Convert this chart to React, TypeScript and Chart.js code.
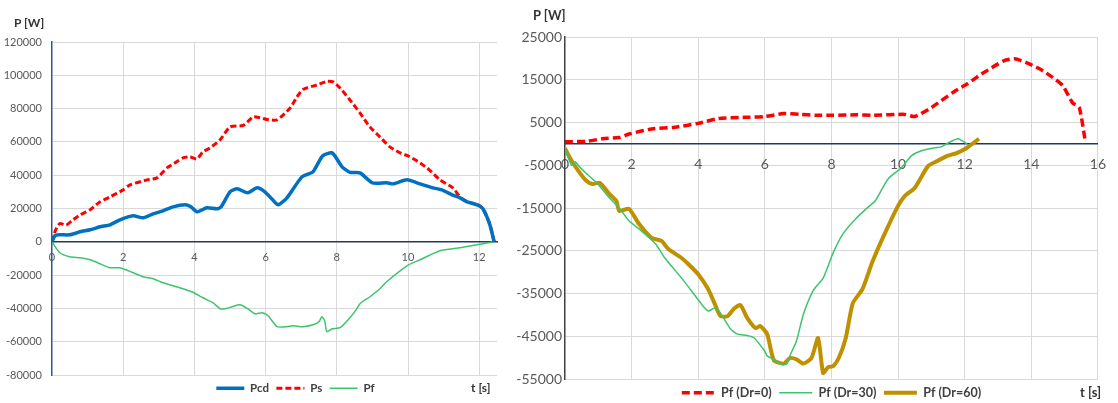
import React, { useEffect, useRef } from "react";
import { Chart, registerables } from "chart.js";

Chart.register(...registerables);

// ---------- Left chart data ----------
const pcdT = [0, 0.08, 0.2, 0.5, 0.79, 1.07, 1.35, 1.63, 1.91, 2.28, 2.56, 2.84, 3.12, 3.4, 3.74, 3.9, 4.07, 4.35, 4.63, 4.75, 5.0, 5.2, 5.5, 5.76, 5.98, 6.2, 6.35, 6.6, 7.02, 7.33, 7.6, 7.87, 8.15, 8.37, 8.65, 9.0, 9.4, 9.58, 9.97, 10.34, 10.7, 10.95, 11.24, 11.46, 11.66, 11.94, 12.1, 12.3, 12.42];
const pcdP = [0, 3600, 4200, 4200, 6000, 7200, 9000, 10200, 13200, 15600, 14400, 16800, 18600, 21000, 22200, 21000, 18000, 20400, 19800, 21000, 30000, 31800, 29400, 32400, 30000, 25200, 22200, 26400, 39000, 42000, 51600, 53400, 45000, 41700, 41400, 35400, 35400, 34800, 37200, 34800, 32400, 31200, 28200, 26400, 24000, 22200, 20000, 10200, 0];

const psT = [0, 0.1, 0.22, 0.4, 0.55, 0.79, 1.07, 1.35, 1.63, 2.0, 2.19, 2.67, 2.95, 3.23, 3.5, 3.68, 3.88, 4.07, 4.24, 4.44, 4.72, 5.0, 5.37, 5.65, 5.84, 6.04, 6.32, 6.69, 6.88, 7.05, 7.44, 7.72, 7.9, 8.09, 8.37, 8.65, 8.93, 9.21, 9.49, 9.78, 10.0, 10.34, 10.6, 10.9, 11.26, 11.46, 11.66, 11.94, 12.1, 12.3, 12.42];
const psP = [0, 7000, 11000, 10000, 12500, 16200, 19200, 24000, 27000, 31200, 34200, 37200, 38400, 44400, 48000, 50400, 51000, 49800, 54000, 56400, 61200, 69000, 69900, 75000, 74500, 73500, 73200, 80400, 87000, 91500, 94200, 96300, 96000, 92400, 85200, 77400, 69000, 63000, 57000, 53400, 51600, 47400, 43200, 37200, 32400, 27000, 24000, 22500, 20000, 10500, 0];

const pfT = [0, 0.22, 0.5, 0.79, 1.07, 1.35, 1.63, 1.91, 2.28, 2.56, 2.84, 3.12, 3.4, 3.68, 3.96, 4.24, 4.52, 4.72, 4.86, 5.06, 5.28, 5.5, 5.7, 5.9, 6.07, 6.32, 6.6, 6.77, 7.05, 7.33, 7.5, 7.58, 7.66, 7.72, 7.87, 8.09, 8.37, 8.57, 8.65, 8.93, 9.21, 9.4, 9.97, 10.34, 10.9, 11.46, 11.94, 12.42];
const pfP = [0, -6600, -9000, -9600, -10800, -13200, -15600, -15600, -18600, -21000, -22200, -24600, -26400, -28200, -30300, -33600, -36600, -40200, -40200, -39000, -37800, -40200, -43200, -42600, -44400, -51000, -51000, -50400, -51000, -49800, -48000, -45000, -47500, -54000, -52200, -51600, -45600, -40000, -37200, -33000, -28200, -24000, -14400, -10800, -5400, -3600, -1800, 0];

const leftXTicks = { min: 0, max: 12.5, step: 2 };
const leftYTicks = { min: -80000, max: 120000, step: 20000 };

// ---------- Right chart data ----------
const dr0T = [0, 0.65, 1.12, 1.63, 1.92, 2.6, 3.3, 4.0, 4.6, 5.4, 6.0, 6.57, 7.05, 7.54, 8.05, 8.73, 9.23, 10.2, 10.5, 11.0, 11.7, 12.07, 12.5, 13.17, 13.5, 13.85, 14.26, 14.65, 14.95, 15.24, 15.44, 15.62];
const dr0P = [500, 600, 1200, 1500, 2300, 3500, 3900, 4800, 5900, 6200, 6400, 7100, 6900, 6700, 6700, 6800, 6700, 6900, 6400, 8500, 12300, 14000, 16300, 19400, 19900, 19000, 17500, 15500, 13600, 9600, 8500, 700];

const dr30T = [0, 0.1, 0.2, 0.3, 0.45, 0.65, 0.95, 1.33, 1.63, 1.92, 2.3, 2.72, 3.0, 3.5, 3.8, 4.1, 4.3, 4.5, 4.67, 4.97, 5.18, 5.47, 5.68, 6.0, 6.07, 6.36, 6.45, 6.66, 6.75, 6.95, 7.16, 7.46, 7.75, 8.05, 8.34, 8.73, 9.1, 9.32, 9.7, 10.1, 10.4, 10.7, 11.1, 11.3, 11.5, 11.8, 12.07];
const dr30P = [-1000, -3300, -5000, -4200, -5500, -7000, -9100, -12600, -15000, -18000, -20400, -23400, -26700, -31400, -34400, -37500, -39100, -38400, -39600, -43300, -44500, -44800, -45400, -48500, -49600, -50800, -51500, -51500, -49600, -46100, -39800, -34200, -31400, -25500, -21100, -17500, -14800, -13300, -8200, -5600, -2800, -1600, -900, -700, 200, 1200, 0];

const dr60T = [0, 0.15, 0.4, 0.65, 0.83, 1.04, 1.33, 1.54, 1.63, 1.92, 2.22, 2.6, 2.9, 3.1, 3.5, 3.7, 4.0, 4.3, 4.5, 4.67, 4.88, 5.08, 5.27, 5.47, 5.72, 5.86, 6.07, 6.27, 6.57, 6.75, 6.95, 7.16, 7.4, 7.6, 7.75, 7.9, 8.05, 8.22, 8.43, 8.64, 8.93, 9.23, 9.6, 10.0, 10.2, 10.5, 10.9, 11.18, 11.48, 11.78, 12.07, 12.43];
const dr60P = [-1000, -3300, -6300, -8700, -9400, -9100, -11700, -13300, -15700, -15200, -18700, -22000, -22700, -24600, -26700, -28100, -30500, -34000, -37500, -40300, -40300, -38500, -37700, -40700, -43100, -42600, -44500, -50600, -51400, -50100, -50400, -51400, -50100, -45400, -53600, -52200, -52000, -50100, -45400, -37300, -34000, -27600, -21000, -14500, -12200, -10300, -5200, -4000, -2800, -2100, -900, 1200];

const rightXTicks = { min: 0, max: 16, step: 2 };
const rightYTicks = { min: -55000, max: 25000, step: 10000 };

// ---------- helpers ----------
const FONT = "Lato, 'Open Sans', sans-serif";
const GRID = "#D9D9D9";
const TICK = "#595959";

const pts = (t: number[], p: number[]) => t.map((x, i) => ({ x, y: p[i] }));
const hideZero = (c: any) => (c.tick && c.tick.value === 0 ? "rgba(0,0,0,0)" : GRID);
const plain = (v: any) => `${v}`;

const legendItems = (chart: any) =>
  chart.data.datasets.map((ds: any, i: number) => ({
    text: ds.label,
    fillStyle: ds.borderColor,
    strokeStyle: ds.borderColor,
    lineWidth: ds.borderWidth,
    lineDash: ds.borderDash || [],
    lineCap: "butt",
    pointStyle: "line",
    fontColor: "#404040",
    hidden: false,
    datasetIndex: i,
  }));

function makeLeft(): any {
  return {
    type: "line",
    data: {
      datasets: [
        { label: "Pcd", data: pts(pcdT, pcdP), borderColor: "#0070C0", borderWidth: 3.5, xAxisID: "x", yAxisID: "y" },
        { label: "Ps", data: pts(psT, psP), borderColor: "#FF0000", borderWidth: 3, borderDash: [6, 3], xAxisID: "x", yAxisID: "y" },
        { label: "Pf", data: pts(pfT, pfP), borderColor: "#3CC46E", borderWidth: 1.5, xAxisID: "x", yAxisID: "y" },
      ],
    },
    options: {
      animation: false,
      responsive: false,
      layout: { padding: { top: 42, left: 0, right: 0, bottom: 0 } },
      elements: { point: { radius: 0 }, line: { tension: 0.2, fill: false } },
      plugins: {
        tooltip: { enabled: false },
        legend: {
          position: "bottom",
          fullSize: true,
          labels: {
            usePointStyle: true,
            pointStyle: "line",
            pointStyleWidth: 28,
            padding: 7.5,
            color: "#404040",
            font: { family: FONT, size: 11.5, weight: "bold" },
            generateLabels: legendItems,
          },
        },
      },
      scales: {
        x: {
          type: "linear",
          min: leftXTicks.min,
          max: leftXTicks.max,
          position: { y: 0 },
          ticks: { stepSize: leftXTicks.step, includeBounds: false, autoSkip: false, maxRotation: 0, padding: 9, color: TICK, font: { family: FONT, size: 11 }, callback: plain },
          grid: { color: hideZero, drawTicks: false, lineWidth: 1 },
          border: { color: "#1F3864", width: 1.5 },
          afterFit: (s: any) => { s.height = 0; },
        },
        y: {
          type: "linear",
          position: "left",
          min: leftYTicks.min,
          max: leftYTicks.max,
          ticks: { stepSize: leftYTicks.step, padding: 10, color: TICK, font: { family: FONT, size: 11 }, callback: plain },
          grid: { color: hideZero, drawTicks: false, lineWidth: 1 },
          border: { color: "#2F5597", width: 1.5 },
          afterFit: (s: any) => { s.width = 52; },
        },
        yR: {
          type: "linear",
          position: "right",
          display: true,
          grid: { display: false, drawTicks: false },
          ticks: { display: false },
          border: { display: false },
          afterFit: (s: any) => { s.width = 94; },
        },
      },
    },
  };
}

function makeRight(): any {
  return {
    type: "line",
    data: {
      datasets: [
        { label: "Pf (Dr=0)", data: pts(dr0T, dr0P), borderColor: "#FF0000", borderWidth: 3.5, borderDash: [8, 4], xAxisID: "x", yAxisID: "y" },
        { label: "Pf (Dr=30)", data: pts(dr30T, dr30P), borderColor: "#3CC46E", borderWidth: 1.5, xAxisID: "x", yAxisID: "y" },
        { label: "Pf (Dr=60)", data: pts(dr60T, dr60P), borderColor: "#BF9000", borderWidth: 4, xAxisID: "x", yAxisID: "y" },
      ],
    },
    options: {
      animation: false,
      responsive: false,
      layout: { padding: { top: 37, left: 0, right: 11, bottom: 0 } },
      elements: { point: { radius: 0 }, line: { tension: 0.2, fill: false } },
      plugins: {
        tooltip: { enabled: false },
        legend: {
          position: "bottom",
          fullSize: false,
          labels: {
            usePointStyle: true,
            pointStyle: "line",
            pointStyleWidth: 33,
            padding: 7.5,
            color: "#404040",
            font: { family: FONT, size: 12.5, weight: "bold" },
            generateLabels: legendItems,
          },
        },
      },
      scales: {
        x: {
          type: "linear",
          min: rightXTicks.min,
          max: rightXTicks.max,
          position: { y: 0 },
          ticks: { stepSize: rightXTicks.step, autoSkip: false, maxRotation: 0, padding: 12, color: TICK, font: { family: FONT, size: 14 }, callback: plain },
          grid: { color: hideZero, drawTicks: false, lineWidth: 1 },
          border: { color: "#1F3864", width: 1.5 },
          afterFit: (s: any) => { s.height = 0; },
        },
        y: {
          type: "linear",
          position: "left",
          min: rightYTicks.min,
          max: rightYTicks.max,
          ticks: { stepSize: rightYTicks.step, padding: 3, color: TICK, font: { family: FONT, size: 14 }, callback: plain },
          grid: { color: hideZero, drawTicks: false, lineWidth: 1 },
          border: { color: "#404040", width: 1.5 },
          afterFit: (s: any) => { s.width = 50; },
        },
      },
    },
  };
}

function ChartCanvas({ make, left, width, height }: { make: () => any; left: number; width: number; height: number }) {
  const ref = useRef<HTMLCanvasElement>(null);
  useEffect(() => {
    const chart = new Chart(ref.current as HTMLCanvasElement, make());
    return () => chart.destroy();
  }, []);
  return (
    <canvas
      ref={ref}
      width={width}
      height={height}
      style={{ position: "absolute", left, top: 0, width, height }}
    />
  );
}

const labelStyle = (left: number, top: number, size: number): React.CSSProperties => ({
  position: "absolute",
  left,
  top,
  font: `bold ${size}px ${FONT}`,
  lineHeight: `${size + 2}px`,
  color: "#333333",
  whiteSpace: "nowrap",
});

export default function App() {
  return (
    <div style={{ position: "absolute", left: 0, top: 0, width: 1118, height: 403, overflow: "hidden", background: "#ffffff" }}>
      <ChartCanvas make={makeLeft} left={0} width={591} height={404} />
      <ChartCanvas make={makeRight} left={515} width={603} height={409} />
      <div style={labelStyle(14, 16, 12)}>P [W]</div>
      <div style={labelStyle(471, 381, 12)}>t [s]</div>
      <div style={labelStyle(533, 8, 13)}>P [W]</div>
      <div style={labelStyle(1080, 385, 13)}>t [s]</div>
    </div>
  );
}
